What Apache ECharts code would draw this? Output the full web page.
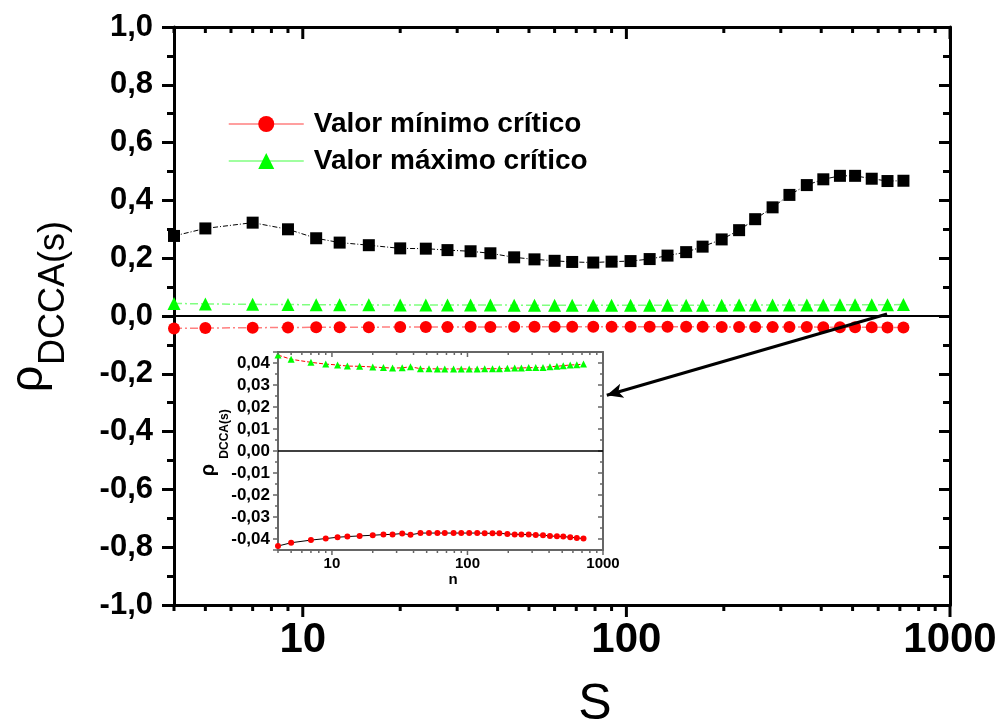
<!DOCTYPE html>
<html>
<head>
<meta charset="utf-8">
<script src="https://cdn.jsdelivr.net/npm/echarts@6/dist/echarts.min.js"></script>
<style>
  html, body { margin: 0; padding: 0; background: #fff; }
  #main { width: 1003px; height: 723px; }
</style>
</head>
<body>
<div id="main"></div>
<script>
// escalas s (eixo log)
var sVals = [4, 5, 7, 9, 11, 13, 16, 20, 24, 28, 33, 38, 45, 52, 60, 68, 79, 90, 103, 118,
  134, 153, 172, 197, 223, 250, 283, 319, 361, 406, 457, 509, 573, 641, 718];
// coeficiente rho DCCA
var rhoVals = [0.277, 0.303, 0.323, 0.300, 0.269, 0.254, 0.245, 0.234, 0.233, 0.228, 0.224,
  0.217, 0.203, 0.196, 0.191, 0.187, 0.185, 0.188, 0.190, 0.197, 0.209, 0.221, 0.240, 0.265,
  0.297, 0.335, 0.376, 0.419, 0.453, 0.473, 0.485, 0.485, 0.475, 0.467, 0.468];
// valor maximo critico
var maxCrit = [0.0436, 0.0417, 0.0403, 0.0395, 0.0391, 0.0386, 0.0385, 0.0382, 0.0379, 0.0377,
  0.0378, 0.0383, 0.0374, 0.0374, 0.0373, 0.0373, 0.0373, 0.0373, 0.0373, 0.0373, 0.0374,
  0.0374, 0.0374, 0.0376, 0.0377, 0.0377, 0.0379, 0.0379, 0.0380, 0.0383, 0.0385, 0.0388,
  0.0391, 0.0392, 0.0395];
// valor minimo critico
var minCrit = [-0.0432, -0.0417, -0.0405, -0.0398, -0.0392, -0.0389, -0.0386, -0.0383, -0.0380,
  -0.0379, -0.0375, -0.0381, -0.0373, -0.0373, -0.0373, -0.0373, -0.0373, -0.0373, -0.0373,
  -0.0373, -0.0374, -0.0374, -0.0374, -0.0377, -0.0379, -0.0379, -0.0380, -0.0382, -0.0383,
  -0.0386, -0.0388, -0.0389, -0.0392, -0.0395, -0.0398];

var majorTicks = [10, 100, 1000];
var minorTicks = [4, 5, 6, 7, 8, 9, 20, 30, 40, 50, 60, 70, 80, 90, 200, 300, 400, 500, 600, 700, 800, 900];
var legendNames = ['Valor mínimo crítico', 'Valor máximo crítico'];

var FONT = 'Liberation Sans, Arial, sans-serif';

function pairs(ys) {
  return sVals.map(function (s, i) { return [s, ys[i]]; });
}

function logLabel(v) {
  var l = Math.log10(v);
  return Math.abs(l - Math.round(l)) < 1e-6 ? String(Math.round(v)) : '';
}

// marcas do eixo log (principais e secundarias), em baixo para fora e em cima para dentro
function tickSeries(xi, yi, yRange, majLen, minLen, color, width) {
  return {
    type: 'custom', xAxisIndex: xi, yAxisIndex: yi, silent: true, clip: false, z: 5,
    data: majorTicks.map(function (v) { return [v, 1]; })
      .concat(minorTicks.map(function (v) { return [v, 0]; })),
    renderItem: function (params, api) {
      var v = api.value(0);
      var len = api.value(1) ? majLen : minLen;
      var b = api.coord([v, yRange[0]]);
      var t = api.coord([v, yRange[1]]);
      var st = { stroke: color, lineWidth: width };
      return {
        type: 'group', children: [
          { type: 'line', shape: { x1: b[0], y1: b[1], x2: b[0], y2: b[1] + len }, style: st },
          { type: 'line', shape: { x1: t[0], y1: t[1], x2: t[0], y2: t[1] + len }, style: st }
        ]
      };
    }
  };
}

function logAxis(grid, pos, show, color, w, fs) {
  return {
    type: 'log', logBase: 10, gridIndex: grid, position: pos, min: 4, max: 1000,
    axisLine: { show: true, onZero: false, lineStyle: { color: color, width: w } },
    axisTick: { show: false },
    splitLine: { show: false },
    axisLabel: {
      show: show, color: '#000', fontFamily: FONT, fontWeight: 'bold', fontSize: fs,
      margin: grid === 0 ? 14 : 6, formatter: logLabel
    }
  };
}

var myChart = echarts.init(document.getElementById('main'));

var option = {
  animation: false,
  backgroundColor: '#fff',
  grid: [
    { left: 174, top: 27, width: 776, height: 578 },
    { left: 278, top: 352, width: 325, height: 198, show: true, backgroundColor: '#fff', borderWidth: 0 }
  ],
  legend: {
    data: legendNames,
    orient: 'vertical',
    left: 223, top: 105,
    itemWidth: 75, itemHeight: 20, itemGap: 9,
    lineStyle: { type: 'solid', width: 1.5 },
    textStyle: {
      color: '#000', fontFamily: FONT, fontWeight: 'bold', fontSize: 28,
      padding: [0, 0, 0, 5]
    }
  },
  xAxis: [
    logAxis(0, 'bottom', true, '#000', 3, 42),
    logAxis(0, 'top', false, '#000', 3, 42),
    Object.assign(logAxis(1, 'bottom', true, '#666', 2, 15), {
      name: 'n', nameLocation: 'middle', nameGap: 22,
      nameTextStyle: { color: '#000', fontFamily: FONT, fontWeight: 'bold', fontSize: 15, padding: [0, 0, 0, 25] }
    }),
    logAxis(1, 'top', false, '#666', 2, 15)
  ],
  yAxis: [
    {
      type: 'value', gridIndex: 0, position: 'left', min: -1, max: 1, interval: 0.2,
      axisLine: { show: true, onZero: false, lineStyle: { color: '#000', width: 3 } },
      axisTick: { show: true, length: 12, lineStyle: { color: '#000', width: 3 } },
      minorTick: { show: true, splitNumber: 2, length: 7, lineStyle: { color: '#000', width: 3 } },
      splitLine: { show: false },
      axisLabel: {
        color: '#000', fontFamily: FONT, fontWeight: 'bold', fontSize: 31, margin: 21,
        formatter: function (v) { return v.toFixed(1).replace('.', ','); }
      }
    },
    {
      type: 'value', gridIndex: 0, position: 'right', min: -1, max: 1, interval: 0.2,
      axisLine: { show: true, onZero: false, lineStyle: { color: '#000', width: 3 } },
      axisTick: { show: true, inside: true, length: 11, lineStyle: { color: '#000', width: 3 } },
      minorTick: { show: true, splitNumber: 2, length: 7, lineStyle: { color: '#000', width: 3 } },
      splitLine: { show: false },
      axisLabel: { show: false }
    },
    {
      type: 'value', gridIndex: 1, position: 'left', min: -0.045, max: 0.045, splitNumber: 9,
      axisLine: { show: true, onZero: false, lineStyle: { color: '#666', width: 2 } },
      axisTick: { show: true, length: 5, lineStyle: { color: '#666', width: 1.5 } },
      minorTick: { show: true, splitNumber: 2, length: 3, lineStyle: { color: '#666', width: 1.5 } },
      splitLine: { show: false },
      axisLabel: {
        color: '#000', fontFamily: FONT, fontWeight: 'bold', fontSize: 17, margin: 8,
        formatter: function (v) {
          if (Math.abs(v * 100 - Math.round(v * 100)) > 1e-6) return '';
          return v.toFixed(2).replace('.', ',');
        }
      }
    },
    {
      type: 'value', gridIndex: 1, position: 'right', min: -0.045, max: 0.045, splitNumber: 9,
      axisLine: { show: true, onZero: false, lineStyle: { color: '#666', width: 2 } },
      axisTick: { show: true, inside: true, length: 5, lineStyle: { color: '#666', width: 1.5 } },
      minorTick: { show: true, splitNumber: 2, length: 3, lineStyle: { color: '#666', width: 1.5 } },
      splitLine: { show: false },
      axisLabel: { show: false }
    }
  ],
  graphic: [
    { type: 'text', x: 29, y: 379, rotation: Math.PI / 2,
      style: { text: 'ρ', fill: '#000', font: '47px ' + FONT, textAlign: 'center', textVerticalAlign: 'middle', align: 'center', verticalAlign: 'middle' } },
    { type: 'text', x: 54, y: 293, rotation: Math.PI / 2,
      style: { text: 'DCCA(s)', fill: '#000', font: '36px ' + FONT, textAlign: 'center', textVerticalAlign: 'middle', align: 'center', verticalAlign: 'middle' } },
    { type: 'text', x: 595, y: 705,
      style: { text: 'S', fill: '#000', font: '50px ' + FONT, textAlign: 'center', textVerticalAlign: 'middle', align: 'center', verticalAlign: 'middle' } },
    { type: 'text', x: 208, y: 470, rotation: Math.PI / 2,
      style: { text: 'ρ', fill: '#000', font: 'bold 20px ' + FONT, textAlign: 'center', textVerticalAlign: 'middle', align: 'center', verticalAlign: 'middle' } },
    { type: 'text', x: 225, y: 434, rotation: Math.PI / 2,
      style: { text: 'DCCA(s)', fill: '#000', font: 'bold 12px ' + FONT, textAlign: 'center', textVerticalAlign: 'middle', align: 'center', verticalAlign: 'middle' } }
  ],
  series: [
    {
      name: 'rho', type: 'line', xAxisIndex: 0, yAxisIndex: 0,
      data: pairs(rhoVals),
      symbol: 'rect', symbolSize: 12,
      itemStyle: { color: '#000' },
      lineStyle: { color: '#000', width: 1, type: [5, 2, 1, 2] },
      z: 3,
      markLine: {
        silent: true, symbol: ['none', 'none'], label: { show: false },
        data: [
          { yAxis: 0, lineStyle: { color: '#000', width: 2, type: 'solid' } },
          [
            { coord: [639, 0.007], symbol: 'none', lineStyle: { color: '#000', width: 3, type: 'solid' } },
            { coord: [87, -0.274], symbol: 'arrow', symbolSize: [11, 16] }
          ]
        ]
      }
    },
    {
      name: legendNames[0], type: 'line', xAxisIndex: 0, yAxisIndex: 0,
      data: pairs(minCrit),
      symbol: 'circle', symbolSize: 12,
      itemStyle: { color: '#ff0000' },
      lineStyle: { color: '#ff7f7f', width: 1.5, type: [8, 3, 2, 3] }
    },
    {
      name: legendNames[1], type: 'line', xAxisIndex: 0, yAxisIndex: 0,
      data: pairs(maxCrit),
      symbol: 'triangle', symbolSize: 13,
      itemStyle: { color: '#00ff00' },
      lineStyle: { color: '#80ff80', width: 1.5, type: [8, 3, 2, 3] }
    },
    {
      name: 'minInset', type: 'line', xAxisIndex: 2, yAxisIndex: 2,
      data: pairs(minCrit),
      symbol: 'circle', symbolSize: 6,
      itemStyle: { color: '#ff0000' },
      lineStyle: { color: '#000', width: 1 },
      markLine: {
        silent: true, symbol: ['none', 'none'], label: { show: false },
        data: [{ yAxis: 0, lineStyle: { color: '#000', width: 1.5, type: 'solid' } }]
      }
    },
    {
      name: 'maxInset', type: 'line', xAxisIndex: 2, yAxisIndex: 2,
      data: pairs(maxCrit),
      symbol: 'triangle', symbolSize: 7,
      itemStyle: { color: '#00ff00' },
      lineStyle: { color: '#ff0000', width: 1, type: [4, 2] }
    },
    tickSeries(0, 0, [-1, 1], 12, 6, '#000', 3),
    tickSeries(2, 2, [-0.045, 0.045], 5, 3, '#666', 1.5)
  ]
};

myChart.setOption(option);
</script>
</body>
</html>
